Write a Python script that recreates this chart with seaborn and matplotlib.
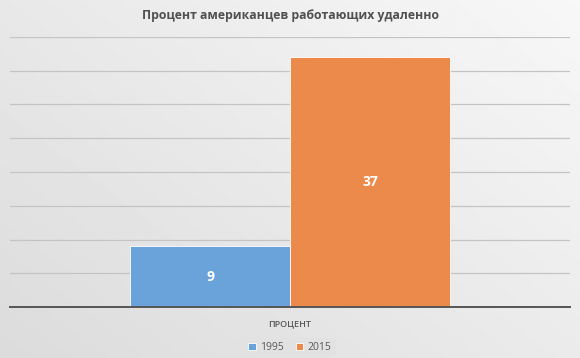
import numpy as np
import pandas as pd
import matplotlib
matplotlib.use("Agg")
import matplotlib.pyplot as plt
import seaborn as sns

categories = ["ПРОЦЕНТ"]
years = ["1995", "2015"]
values = [9, 37]
colors = ["#6aa3d9", "#ec8a4b"]

df = pd.DataFrame({"cat": categories * len(years), "year": years, "val": values})

sns.set_style("white")
plt.rcParams["font.family"] = ["Open Sans", "DejaVu Sans"]

fig = plt.figure(figsize=(5.8, 3.58), dpi=100)

# background gradient
bg = fig.add_axes([0, 0, 1, 1], zorder=-10)
yy, xx = np.mgrid[0:1:200j, 0:1:300j]
grad = 0.86 + 0.11 * (0.55 * xx + 0.45 * (1 - yy))
bg.imshow(grad, cmap="gray", vmin=0, vmax=1, aspect="auto", extent=[0, 1, 0, 1], origin="upper")
bg.set_axis_off()

ax = fig.add_axes([10 / 580, 1 - 307 / 358, 560 / 580, 270 / 358])
ax.set_facecolor("none")

sns.barplot(data=df, x="cat", y="val", hue="year", palette=colors, width=0.571,
            saturation=1, edgecolor="white", linewidth=0.6, ax=ax, legend=True)

ax.set_xlim(-0.5, 0.5)
ax.set_ylim(0, 40)
ax.set_yticks(np.arange(0, 41, 5))
ax.yaxis.grid(True, color="#c4c4c4", linewidth=0.9)
ax.set_axisbelow(True)
ax.tick_params(axis="y", left=False, labelleft=False)
ax.tick_params(axis="x", bottom=False, labelsize=6.5, colors="#595959", pad=5)
for lbl in ax.get_xticklabels():
    lbl.set_fontweight("semibold")
for s in ["top", "right", "left"]:
    ax.spines[s].set_visible(False)
ax.spines["bottom"].set_color("#555555")
ax.spines["bottom"].set_linewidth(1.4)
ax.set_xlabel("")
ax.set_ylabel("")

for cont in ax.containers:
    ax.bar_label(cont, label_type="center", color="white", fontsize=10, fontweight="bold")

leg = ax.legend(loc="upper center", bbox_to_anchor=(0.5, -0.095), ncol=2, frameon=True,
                fontsize=7.5, handlelength=0.7, handleheight=0.7, handletextpad=0.4,
                columnspacing=1.2, borderpad=0.4)
leg.get_frame().set_facecolor("#e2e2e2")
leg.get_frame().set_edgecolor("none")
for t in leg.get_texts():
    t.set_color("#595959")

fig.text(0.5, 1 - 16 / 358, "Процент американцев работающих удаленно", ha="center", va="center",
         fontsize=8.8, fontweight="bold", color="#505050")

fig.savefig("out.png", dpi=100)
